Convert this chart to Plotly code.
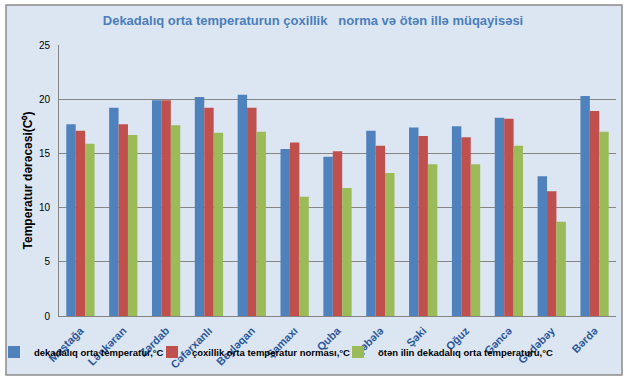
import plotly.graph_objects as go

categories = ["Maştağa", "Lənkəran", "Zərdab", "Cəfərxanlı", "Beyləqan", "Şamaxı", "Quba",
              "Qəbələ", "Şəki", "Oğuz", "Gəncə", "Gədəbəy", "Bərdə"]
dekada = [17.7, 19.2, 19.9, 20.2, 20.4, 15.4, 14.7, 17.1, 17.4, 17.5, 18.3, 12.9, 20.3]
norma = [17.1, 17.7, 19.9, 19.2, 19.2, 16.0, 15.2, 15.7, 16.6, 16.5, 18.2, 11.5, 18.9]
oten = [15.9, 16.7, 17.6, 16.9, 17.0, 11.0, 11.8, 13.2, 14.0, 14.0, 15.7, 8.7, 17.0]

names = ["dekadalıq orta temperatur,°C",
         "çoxillik orta temperatur norması,°C",
         "ötən ilin dekadalıq orta temperaturu,°C"]
colors = ["#4F81BD", "#C0504D", "#9BBB59"]
legend_ids = ["legend", "legend2", "legend3"]

fig = go.Figure()
for vals, nm, c, lg in zip([dekada, norma, oten], names, colors, legend_ids):
    fig.add_trace(go.Bar(x=categories, y=vals, name=nm, marker_color=c, marker_line_width=0, legend=lg))

W, H = 628, 381
L, R, T, B = 59, 12, 45, 65
pw, ph = W - L - R, H - T - B

def px(x):
    return (x - L) / pw

def py(y):
    return (H - B - y) / ph

fig.add_shape(type="rect", xref="paper", yref="paper",
              x0=px(6), x1=px(622), y0=py(375), y1=py(5),
              fillcolor="#DCE6F2", line=dict(color="#8C8C8C", width=1.5), layer="below")

legfont = dict(size=9.5, color="black", family="Liberation Sans, Arial", weight="bold")
def leg(text_x):
    return dict(orientation="h", x=px(text_x - 40), xanchor="left", y=py(352), yanchor="middle",
                font=legfont, bgcolor="rgba(0,0,0,0)", borderwidth=0)

fig.update_layout(
    width=W, height=H,
    margin=dict(l=L, r=R, t=T, b=B, autoexpand=False),
    paper_bgcolor="white",
    plot_bgcolor="#DCE6F2",
    barmode="group",
    bargap=0.34,
    bargroupgap=0,
    font=dict(family="Liberation Sans, Arial", size=10, color="black"),
    title=dict(text="<b>Dekadalıq orta temperaturun çoxillik   norma və ötən illə müqayisəsi</b>",
               x=(313) / W, xanchor="center", y=1 - 20 / H, yanchor="middle",
               font=dict(size=13, color="#4A7EBB", family="Liberation Sans, Arial")),
    legend=leg(34),
    legend2=leg(192),
    legend3=leg(378),
    showlegend=True,
)
fig.update_yaxes(range=[0, 25], dtick=5, showgrid=True, gridcolor="#868686", gridwidth=1,
                 showline=True, linecolor="#868686", linewidth=1, zeroline=False,
                 ticks="", tickfont=dict(size=10, color="black"), ticklabelstandoff=6,
                 automargin=False,
                 title=dict(text="<b>Temperatur dərəcəsi(C⁰)</b>", font=dict(size=12, color="black"), standoff=3))
fig.update_xaxes(showline=True, linecolor="#868686", linewidth=1, tickangle=-45,
                 tickmode="array", tickvals=categories,
                 ticktext=["<b>" + c + "</b>" for c in categories],
                 tickfont=dict(size=11, color="#2B579A", family="Liberation Sans, Arial"),
                 ticklabelstandoff=3,
                 ticks="", automargin=False)

fig.write_html("out.html", config={"displayModeBar": False},
               post_script="document.body.style.margin='0';")
